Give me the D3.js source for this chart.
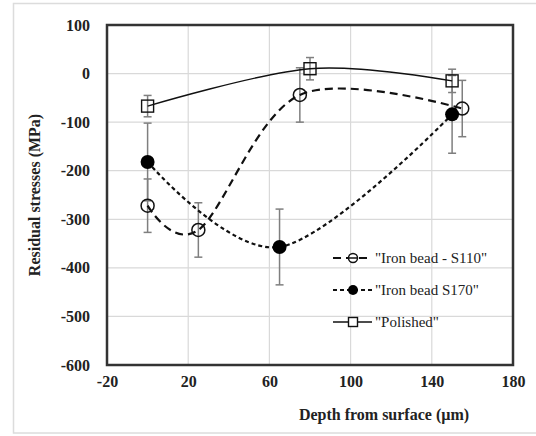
<!DOCTYPE html>
<html>
<head>
<meta charset="utf-8">
<script src="https://cdn.jsdelivr.net/npm/d3@7"></script>
<style>
  body { margin: 0; background: #fff; }
  svg text { font-family: "Liberation Serif", "Times New Roman", "DejaVu Serif", serif; }
</style>
</head>
<body>
<svg id="chart" width="536" height="436"></svg>
<script>
// ---------- data ---------- //
var xTicks = [-20, 20, 60, 100, 140, 180];
var yTicks = [100, 0, -100, -200, -300, -400, -500, -600];

var s110Depth = [0, 25, 75, 155];
var s110Stress = [-272, -322, -44, -72];
var s110Err = [55, 56, 56, 58];

var s170Depth = [0, 65, 150];
var s170Stress = [-182, -357, -84];
var s170Err = [80, 78, 80];

var polDepth = [0, 80, 150];
var polStress = [-67, 10, -15];
var polErr = [22, 23, 24];

// ---------- canvas ---------- //
var svg = d3.select("#chart");
var margin = {left: 107, right: 23, top: 25, bottom: 71};
var width = 536, height = 436;
var serif = "'Liberation Serif', 'Times New Roman', 'DejaVu Serif', serif";

var x = d3.scaleLinear().domain([-20, 180]).range([margin.left, width - margin.right]);
var y = d3.scaleLinear().domain([-600, 100]).range([height - margin.bottom, margin.top]);

// outer frame
svg.append("rect")
    .attr("x", 13.5).attr("y", 3.5)
    .attr("width", 530).attr("height", 429.5)
    .attr("fill", "#fff")
    .attr("stroke", "#dcdcdc")
    .attr("stroke-width", 1.5);

// grid
var grid = svg.append("g");
grid.selectAll(".gx").data(xTicks).enter().append("line")
    .attr("x1", d => x(d)).attr("x2", d => x(d))
    .attr("y1", y(100)).attr("y2", y(-600))
    .attr("stroke", "#d9d9d9").attr("stroke-width", 1.2);
grid.selectAll(".gy").data(yTicks).enter().append("line")
    .attr("x1", x(-20)).attr("x2", x(180))
    .attr("y1", d => y(d)).attr("y2", d => y(d))
    .attr("stroke", "#d9d9d9").attr("stroke-width", 1.2);

// axes (labels only)
var xAxis = svg.append("g")
    .attr("transform", "translate(0," + (y(-600) + 8) + ")")
    .call(d3.axisBottom(x).tickValues(xTicks).tickSize(0).tickFormat(d => String(d)));
xAxis.attr("font-family", serif);
xAxis.select(".domain").remove();
xAxis.selectAll("text")
    .attr("font-size", "16px").attr("font-weight", "bold").attr("fill", "#222");

var yAxis = svg.append("g")
    .attr("transform", "translate(" + (x(-20) - 14) + ",0)")
    .call(d3.axisLeft(y).tickValues(yTicks).tickSize(0).tickFormat(d => String(d)));
yAxis.attr("font-family", serif);
yAxis.select(".domain").remove();
yAxis.selectAll("text")
    .attr("font-size", "16px").attr("font-weight", "bold").attr("fill", "#222");

// axis titles
svg.append("text")
    .attr("x", 384).attr("y", 420)
    .attr("text-anchor", "middle")
    .attr("font-size", "16px").attr("font-weight", "bold").attr("fill", "#222")
    .text("Depth from surface (µm)");

svg.append("text")
    .attr("transform", "translate(40," + ((y(100) + y(-600)) / 2) + ") rotate(-90)")
    .attr("text-anchor", "middle")
    .attr("font-size", "16px").attr("font-weight", "bold").attr("fill", "#222")
    .text("Residual stresses (MPa)");

// ---------- series ---------- //
function toPoints(xs, ys, es) {
    return xs.map((d, i) => ({x: d, y: ys[i], e: es[i]}));
}
var s110 = toPoints(s110Depth, s110Stress, s110Err);
var s170 = toPoints(s170Depth, s170Stress, s170Err);
var pol = toPoints(polDepth, polStress, polErr);

// error bars
function errorBars(data) {
    var g = svg.append("g").attr("stroke", "#7f7f7f").attr("stroke-width", 1.5);
    data.forEach(function(d) {
        g.append("line")
            .attr("x1", x(d.x)).attr("x2", x(d.x))
            .attr("y1", y(d.y + d.e)).attr("y2", y(d.y - d.e));
        g.append("line")
            .attr("x1", x(d.x) - 4).attr("x2", x(d.x) + 4)
            .attr("y1", y(d.y + d.e)).attr("y2", y(d.y + d.e));
        g.append("line")
            .attr("x1", x(d.x) - 4).attr("x2", x(d.x) + 4)
            .attr("y1", y(d.y - d.e)).attr("y2", y(d.y - d.e));
    });
}
errorBars(s110);
errorBars(s170);
errorBars(pol);

var line = d3.line()
    .x(d => x(d.x)).y(d => y(d.y))
    .curve(d3.curveCardinal.tension(0));

svg.append("path").datum(s110).attr("d", line)
    .attr("fill", "none").attr("stroke", "#111")
    .attr("stroke-width", 2.2).attr("stroke-dasharray", "8,5");

svg.append("path").datum(s170).attr("d", line)
    .attr("fill", "none").attr("stroke", "#111")
    .attr("stroke-width", 2.2).attr("stroke-dasharray", "4,3");

svg.append("path").datum(pol).attr("d", line)
    .attr("fill", "none").attr("stroke", "#111")
    .attr("stroke-width", 1.4);

// markers
svg.selectAll(".m110").data(s110).enter().append("circle")
    .attr("cx", d => x(d.x)).attr("cy", d => y(d.y)).attr("r", 6.5)
    .attr("fill", "none").attr("stroke", "#111").attr("stroke-width", 1.5);

svg.selectAll(".m170").data(s170).enter().append("circle")
    .attr("cx", d => x(d.x)).attr("cy", d => y(d.y)).attr("r", 7)
    .attr("fill", "#000");

svg.selectAll(".mpol").data(pol).enter().append("rect")
    .attr("x", d => x(d.x) - 6).attr("y", d => y(d.y) - 6)
    .attr("width", 12).attr("height", 12)
    .attr("fill", "none").attr("stroke", "#111").attr("stroke-width", 1.4);

// plot border
svg.append("rect")
    .attr("x", x(-20)).attr("y", y(100))
    .attr("width", x(180) - x(-20)).attr("height", y(-600) - y(100))
    .attr("fill", "none").attr("stroke", "#333").attr("stroke-width", 2.5);

// ---------- legend ---------- //
var legend = svg.append("g");
var lx0 = 333, lx1 = 372, lmid = 353;

// Iron bead - S110
legend.append("line")
    .attr("x1", lx0).attr("x2", lx1).attr("y1", 258).attr("y2", 258)
    .attr("stroke", "#111").attr("stroke-width", 2.2).attr("stroke-dasharray", "8,5");
legend.append("circle")
    .attr("cx", lmid).attr("cy", 258).attr("r", 4.5)
    .attr("fill", "#fff").attr("stroke", "#111").attr("stroke-width", 1.5);
legend.append("line")
    .attr("x1", lmid - 4).attr("x2", lmid + 4).attr("y1", 258).attr("y2", 258)
    .attr("stroke", "#111").attr("stroke-width", 1.5);
legend.append("text")
    .attr("x", 375).attr("y", 263)
    .attr("font-size", "15px").attr("fill", "#222")
    .text("\"Iron bead - S110\"");

// Iron bead S170
legend.append("line")
    .attr("x1", lx0).attr("x2", lx1).attr("y1", 290).attr("y2", 290)
    .attr("stroke", "#111").attr("stroke-width", 2.2).attr("stroke-dasharray", "4,3");
legend.append("circle")
    .attr("cx", lmid).attr("cy", 290).attr("r", 5)
    .attr("fill", "#000");
legend.append("text")
    .attr("x", 375).attr("y", 295)
    .attr("font-size", "15px").attr("fill", "#222")
    .text("\"Iron bead S170\"");

// Polished
legend.append("line")
    .attr("x1", lx0).attr("x2", lx1).attr("y1", 322).attr("y2", 322)
    .attr("stroke", "#111").attr("stroke-width", 1.4);
legend.append("rect")
    .attr("x", lmid - 4.5).attr("y", 322 - 4.5).attr("width", 9).attr("height", 9)
    .attr("fill", "#fff").attr("stroke", "#111").attr("stroke-width", 1.4);
legend.append("text")
    .attr("x", 375).attr("y", 327)
    .attr("font-size", "15px").attr("fill", "#222")
    .text("\"Polished\"");
</script>
</body>
</html>
